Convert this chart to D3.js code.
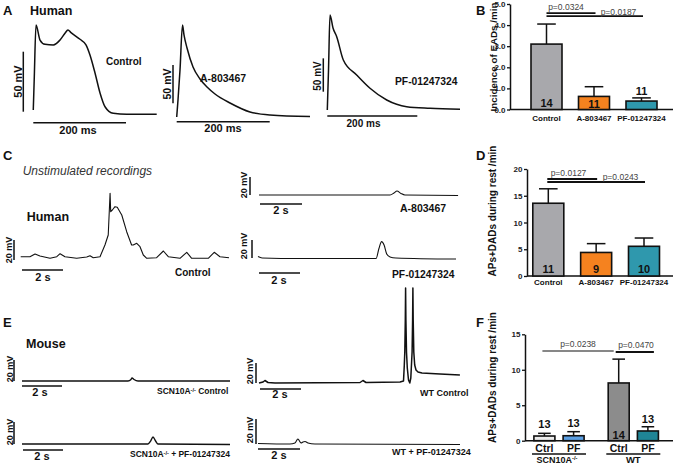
<!DOCTYPE html>
<html><head><meta charset="utf-8">
<script src="https://cdn.jsdelivr.net/npm/d3@7"></script>
<style>body{margin:0;background:#fff}svg{display:block}text{font-family:"Liberation Sans",Arial,sans-serif}</style>
</head><body><svg id="c" width="677" height="466"></svg>
<script>
// ===== DATA =====
// Panel A action potentials: [time ms, mV above rest]
const apControl = [[0.6,3.6],[2.8,31.3],[6.5,74.4],[15.1,61.9],[25.9,58.3],[43.8,57.8],[58.3,61.9],[69,67.5],[75.5,70.3],[81.3,68.3],[101.4,62.5],[114.3,57.8],[122.9,49.4],[133.8,34.4],[144.6,17.8],[155.4,6.3],[173.2,0.8],[202.2,0],[266.9,0]];
const apA803467 = [[0,-0.7],[2.8,21.5],[7.1,60.6],[12.5,119.3],[15.7,106.3],[22.2,89.3],[35.1,64.5],[50.1,48.9],[65.2,38.5],[82.4,29.3],[114.6,17.6],[157.6,5.9],[200.6,2.0],[286.7,0]];
const apPF = [[0,-0.7],[2.7,59.2],[6,141.7],[12.7,122.2],[20.9,109.1],[35.6,74.2],[65.3,51.7],[94.9,31.8],[132,14.2],[176.4,4.2],[228.2,1.8],[294.9,0.3]];
// Panel C unstimulated recordings: [time s, mV]
const humanControl = [[0,0],[0.45,0],[0.70,2.7],[0.94,0.7],[1.43,-1.6],[1.76,0],[1.92,3],[2.16,0],[2.73,-1.6],[3.22,-0.3],[3.38,1],[3.54,-1],[3.87,0],[4.11,11.7],[4.27,21.7],[4.36,63.4],[4.39,45],[4.47,46.7],[4.6,50],[4.71,49.4],[4.93,41.7],[5.17,25],[5.41,11.7],[5.49,11.7],[5.66,13.4],[5.82,10],[5.98,1.7],[6.15,-1.6],[6.63,-1],[6.96,5.7],[7.2,0],[7.77,-1.6],[8.1,4.4],[8.34,-1.6],[9.15,-1.6],[9.44,4.4],[9.72,0],[10.16,-1]];
const humanA803467 = [[0,0],[6.24,0],[6.43,2.2],[6.57,4.4],[6.76,1.7],[6.95,0],[9.48,-0.5]];
const humanPF = [[0,2.2],[0.2,0.6],[2.05,0],[4,0],[5.76,0],[5.9,11.1],[6.03,18.7],[6.15,14.9],[6.28,5],[6.44,1.7],[6.73,0.6],[9.66,-0.6]];
// Panel E mouse recordings: [time s, mV]
const koControl = [[0,0],[5.3,0],[5.45,1.5],[5.5,2.9],[5.6,1.4],[5.8,0],[10.4,0]];
const koPF = [[0,0],[6.3,0],[6.43,2.7],[6.55,6.4],[6.68,2.7],[6.8,0],[10.4,-0.5]];
const wtControl = [[0,0],[0.2,1],[0.29,2.5],[0.44,0.5],[0.78,0],[4.93,0.5],[5.07,2.5],[5.22,0.5],[6.88,1],[7.049,2],[7.088,18],[7.112,31],[7.137,63],[7.151,95],[7.166,63],[7.195,31],[7.234,15],[7.293,3],[7.356,0],[7.405,5],[7.444,21],[7.468,31],[7.493,63],[7.507,95],[7.522,63],[7.551,31],[7.595,18],[7.659,13],[7.756,11],[7.95,10],[8.83,9],[9.8,8]];
const wtPF = [[0,0.4],[1.52,0],[1.76,0.8],[1.9,4],[2.05,0.8],[2.14,1.6],[2.24,2],[2.38,0.8],[2.71,0],[9.62,-0.4]];

// Panel B
const bGroups = ["Control","A-803467","PF-01247324"];
const bMeans = [3.1, 0.62, 0.4];
const bSem = [0.95, 0.46, 0.15];
const bN = ["14","11","11"];
const bTicks = [0,1,2,3,4,5];
// Panel D
const dGroups = ["Control","A-803467","PF-01247324"];
const dMeans = [13.6, 4.4, 5.55];
const dSem = [2.7, 1.65, 1.55];
const dN = ["11","9","10"];
const dTicks = [0,5,10,15,20];
// Panel F
const fGenotypes = ["SCN10A","WT"];
const fTreatments = ["Ctrl","PF"];
const fMeans = [0.66, 0.7, 8.14, 1.37];
const fSem = [0.38, 0.57, 3.36, 0.6];
const fN = ["13","13","14","13"];
const fTicks = [0,5,10,15];

// ===== STYLE =====
const INK = "#111";
const svg = d3.select("#c");
svg.append("rect").attr("width",677).attr("height",466).attr("fill","#fff");

function T(x,y,s,size,o={}){
  const t = svg.append("text").attr("x",x).attr("y",y).attr("font-size",size)
    .attr("font-weight",o.w||"bold").attr("fill",o.fill||INK).attr("text-anchor",o.a||"start").text(s);
  if(o.rot) t.attr("transform",`rotate(-90,${x},${y})`);
  if(o.it) t.attr("font-style","italic");
  return t;
}
function L(x1,y1,x2,y2,w){
  svg.append("line").attr("x1",x1).attr("y1",y1).attr("x2",x2).attr("y2",y2).attr("stroke",INK).attr("stroke-width",w||1.5);
}
function trace(data,c){
  const x = d3.scaleLinear().domain([0,1]).range([c.x0,c.x0+c.pt]);
  const y = d3.scaleLinear().domain([0,1]).range([c.y0,c.y0-c.pv]);
  svg.append("path").datum(data)
    .attr("d",d3.line().x(d=>x(d[0])).y(d=>y(d[1])).curve(c.curve||d3.curveMonotoneX))
    .attr("fill","none").attr("stroke",INK).attr("stroke-width",c.sw||1.3).attr("stroke-linejoin","round");
  const b=c.bar;
  L(b.vx,b.vy,b.vx,b.vy-(y(0)-y(b.v)),1.5);
  L(b.hx,b.hy,b.hx+(x(b.t)-x(0)),b.hy,1.5);
}
function sup(t,base,s,rest){
  t.text(null);
  t.append("tspan").text(base);
  t.append("tspan").attr("font-size","0.65em").attr("dy","-0.45em").text(s);
  if(rest) t.append("tspan").attr("dy","0.3em").text(rest);
}

// ===== PANEL A =====
T(3,15,"A",13); T(30,15,"Human",12.5);
trace(apControl,{x0:33,pt:0.4635,y0:114.3,pv:1.2,sw:1.5,bar:{vx:23.3,vy:111.7,v:50,hx:33.3,hy:122.7,t:200}});
T(21.5,81.5,"50 mV",11,{rot:1,a:"middle"}); T(78,133.5,"200 ms",11,{a:"middle"});
T(106,65,"Control",10);
trace(apA803467,{x0:176.7,pt:0.465,y0:116.5,pv:0.767,sw:1.5,bar:{vx:173,vy:103.3,v:50,hx:176.7,hy:121.7,t:200}});
T(171,84,"50 mV",10.5,{rot:1,a:"middle"}); T(223,131.5,"200 ms",11,{a:"middle"});
T(200,81.5,"A-803467",10.5);
trace(apPF,{x0:327.3,pt:0.45,y0:109.5,pv:0.667,sw:1.5,bar:{vx:323.3,vy:91.7,v:50,hx:327.3,hy:116,t:200}});
T(320.5,76,"50 mV",10,{rot:1,a:"middle"}); T(363.5,126.5,"200 ms",10,{a:"middle"});
T(395,85,"PF-01247324",10.3);

// ===== PANEL C =====
T(3,160,"C",13);
T(22.7,175,"Unstimulated recordings",12,{w:"normal",it:1,fill:"#333"});
T(26.7,221,"Human",12.5);
trace(humanControl,{x0:20.7,pt:20.5,y0:256.7,pv:1.0,sw:1.1,curve:d3.curveLinear,bar:{vx:14,vy:260,v:20,hx:22,hy:270,t:2}});
T(12,250,"20 mV",9,{rot:1,a:"middle"}); T(43,281,"2 s",11,{a:"middle"});
T(175,276,"Control",10);
trace(humanA803467,{x0:259,pt:21,y0:195,pv:0.9,sw:1.1,bar:{vx:250,vy:195,v:20,hx:260,hy:204,t:2}});
T(246.5,185,"20 mV",9,{rot:1,a:"middle"}); T(281,214,"2 s",11,{a:"middle"});
T(400,212,"A-803467",10.5);
trace(humanPF,{x0:258,pt:20.5,y0:258.5,pv:0.9,sw:1.1,bar:{vx:252,vy:258,v:20,hx:259,hy:273,t:2}});
T(246.5,246,"20 mV",9,{rot:1,a:"middle"}); T(279,284,"2 s",11,{a:"middle"});
T(392,278,"PF-01247324",10.3);

// ===== PANEL E =====
T(3,327,"E",13);
T(26,347.5,"Mouse",12.5);
trace(koControl,{x0:22,pt:20,y0:381,pv:1.05,sw:1.4,bar:{vx:14,vy:381,v:20,hx:22,hy:386,t:2}});
T(12.5,369,"20 mV",9,{rot:1,a:"middle"}); T(40,396,"2 s",11,{a:"middle"});
sup(T(157,394,"",8.5),"SCN10A","-/-"," Control");
trace(koPF,{x0:22,pt:20,y0:444,pv:1.1,sw:1.4,bar:{vx:14,vy:444,v:20,hx:23,hy:450,t:2}});
T(12.5,432,"20 mV",9,{rot:1,a:"middle"}); T(42,460,"2 s",11,{a:"middle"});
sup(T(130,457,"",8.5),"SCN10A","-/-"," + PF-01247324");
trace(wtControl,{x0:259,pt:20.5,y0:383,pv:1.0,sw:1.5,curve:d3.curveLinear,bar:{vx:256,vy:383,v:20,hx:260,hy:389,t:2}});
T(253,371,"20 mV",9,{rot:1,a:"middle"}); T(280,398,"2 s",11,{a:"middle"});
T(420,396,"WT Control",9);
trace(wtPF,{x0:258,pt:21,y0:444,pv:1.25,sw:1.1,bar:{vx:256,vy:444,v:20,hx:258,hy:449,t:2}});
T(253,430,"20 mV",9,{rot:1,a:"middle"}); T(279,459,"2 s",11,{a:"middle"});
T(392,455,"WT + PF-01247324",9);

// ===== BAR CHARTS =====
function axisY(y,ax,ticks){
  const g = svg.append("g").attr("transform",`translate(${ax},0)`)
    .call(d3.axisLeft(y).tickValues(ticks).tickSize(3).tickSizeOuter(0).tickPadding(1.5));
  g.select(".domain").attr("stroke",INK).attr("stroke-width",1.5);
  g.selectAll(".tick line").attr("stroke",INK).attr("stroke-width",1.3);
  g.selectAll(".tick text").attr("font-size",8).attr("font-weight","bold").attr("fill","#222")
    .attr("font-family",'"Liberation Sans",Arial,sans-serif');
}
function drawBars(y,cx,w,means,sem,cols,nums,npos,noff){
  means.forEach((m,i)=>{
    const c=cx(i), top=y(m+sem[i]), cap=w*0.3;
    L(c,y(m),c,top,1.5); L(c-cap,top,c+cap,top,1.5);
    svg.append("rect").attr("x",c-w/2).attr("y",y(m)).attr("width",w).attr("height",y(0)-y(m))
      .attr("fill",cols[i]).attr("stroke",INK).attr("stroke-width",1.6);
    const ny = npos[i]==="in" ? y(0)-noff[i] : top-noff[i];
    T(c,ny,nums[i],11,{a:"middle"});
  });
}

// Panel B
T(476,15,"B",13);
{
  const y = d3.scaleLinear().domain([0,5]).range([109.5,4]);
  const x = d3.scalePoint().domain(bGroups).range([546.5,641.5]);
  L(510,y(0),673,y(0),1.5);
  axisY(y,510,bTicks);
  drawBars(y,i=>x(bGroups[i]),31,bMeans,bSem,["#a8a8ac","#f5821f","#2f98ad"],bN,["in","in","above"],[3,1.5,3]);
  bGroups.forEach(g=>T(x(g),120.5,g,8,{a:"middle"}));
  L(x(bGroups[0]),y(4.57),x(bGroups[1])+1.5,y(4.57),1.8);
  L(x(bGroups[0]),y(4.43),x(bGroups[2])+1.5,y(4.43),1.8);
  T(566,10,"p=0.0324",8.5,{w:"normal",a:"middle",fill:"#444"});
  T(618.5,14.5,"p=0.0187",8.5,{w:"normal",a:"middle",fill:"#444"});
  T(497,57,"Incidence of EADs /min",9.8,{rot:1,a:"middle"});
}

// Panel D
T(476,160,"D",13);
{
  const y = d3.scaleLinear().domain([0,20]).range([276,169]);
  const x = d3.scalePoint().domain(dGroups).range([548.3,644]);
  L(527,y(0),673,y(0),1.5);
  axisY(y,527,dTicks);
  drawBars(y,i=>x(dGroups[i]),31,dMeans,dSem,["#a8a8ac","#f5821f","#2f98ad"],dN,["in","in","in"],[3,3,3]);
  dGroups.forEach(g=>T(x(g),285,g,8,{a:"middle"}));
  L(x(dGroups[0])-1,y(18.13),x(dGroups[1])+1,y(18.13),1.8);
  L(x(dGroups[0])-1,y(17.57),x(dGroups[2])+1,y(17.57),1.8);
  T(568.5,175.5,"p=0.0127",8.5,{w:"normal",a:"middle",fill:"#444"});
  T(620.5,179.5,"p=0.0243",8.5,{w:"normal",a:"middle",fill:"#444"});
  T(496,211,"APs+DADs during rest /min",10,{rot:1,a:"middle"});
}

// Panel F
T(476,327,"F",13);
{
  const y = d3.scaleLinear().domain([0,15]).range([440.7,334.3]);
  const gx = d3.scalePoint().domain(fGenotypes).range([559,633.3]);
  const tx = d3.scalePoint().domain(fTreatments).range([-14.6,14.6]);
  const cx = i => gx(fGenotypes[Math.floor(i/2)]) + tx(fTreatments[i%2]);
  L(525,y(0),673,y(0),1.5);
  axisY(y,525,fTicks);
  drawBars(y,cx,21,fMeans,fSem,["#ececec","#5b9fe3","#8c8c8c","#1f8596"],fN,["above","above","in","above"],[5,4.5,2,4.2]);
  fMeans.forEach((m,i)=>T(cx(i),451.5,fTreatments[i%2],10.5,{a:"middle"}));
  fGenotypes.forEach(g=>L(gx(g)-27,454,gx(g)+27,454,1.4));
  sup(T(gx(fGenotypes[0])-2,463,"",9,{a:"middle"}),"SCN10A","-/-");
  T(gx(fGenotypes[1]),463,"WT",9.5,{a:"middle"});
  L(cx(0)-2,y(12.65),cx(2)-5,y(12.65),1.1);
  L(cx(2)-3,y(12.5),cx(3)+6,y(12.5),2);
  T(578,347,"p=0.0238",8.5,{w:"normal",a:"middle",fill:"#444"});
  T(636,347.5,"p=0.0470",8.5,{w:"normal",a:"middle",fill:"#444"});
  T(496,377.5,"APs+DADs during rest /min",10,{rot:1,a:"middle"});
}
</script></body></html>
